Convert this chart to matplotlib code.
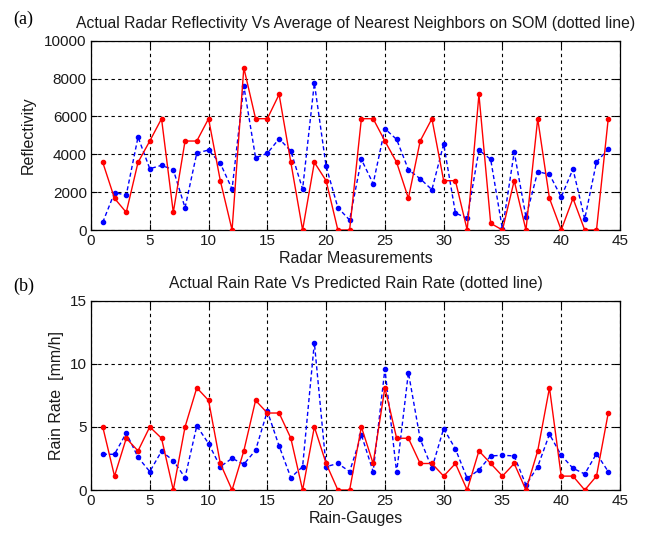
import matplotlib
matplotlib.use("Agg")
import matplotlib.pyplot as plt
import numpy as np

plt.rcParams['font.family'] = ['Liberation Sans', 'DejaVu Sans']

idx = list(range(1, 45))

refl_actual = [3573, 1672, 930, 3573, 4700, 5880, 930, 4700, 4700, 5880,
               2605, 0, 8571, 5880, 5880, 7163, 3573, 0, 3573, 2605,
               0, 0, 5880, 5880, 4700, 3573, 1672, 4700, 5880, 2605,
               2605, 0, 7163, 352, 0, 2605, 0, 5880, 1672, 0,
               1672, 0, 0, 5880]
refl_som = [405, 1971, 1848, 4910, 3238, 3414, 3186, 1179, 4066, 4224,
            3520, 2165, 7603, 3819, 4048, 4822, 4171, 2165, 7762, 3362,
            1179, 528, 3731, 2446, 5350, 4787, 3186, 2710, 2130, 4541,
            898, 616, 4224, 3731, 35, 4118, 686, 3080, 2939, 1742,
            3221, 581, 3590, 4277]

rain_actual = [5.0, 1.1, 4.1, 3.1, 5.0, 4.1, 0, 5.0, 8.1, 7.1,
               2.1, 0, 3.1, 7.1, 6.1, 6.1, 4.1, 0, 5.0, 2.1,
               0, 0, 5.0, 2.1, 8.1, 4.1, 4.1, 2.1, 2.1, 1.1,
               2.1, 0, 3.1, 2.1, 1.1, 2.1, 0, 3.1, 8.1, 1.1,
               1.1, 0, 1.1, 6.1]
rain_pred = [2.83, 2.83, 4.52, 2.59, 1.46, 3.07, 2.33, 0.98, 5.08, 3.68,
             1.85, 2.51, 2.04, 3.15, 6.25, 3.49, 0.98, 1.85, 11.67, 1.85,
             2.1, 1.46, 4.37, 1.46, 9.58, 1.4, 9.31, 4.05, 1.72, 4.87,
             3.25, 0.93, 1.59, 2.7, 2.75, 2.7, 0.4, 1.85, 4.42, 2.75,
             1.72, 1.27, 2.88, 1.46]

top_xticks = [0, 5, 10, 15, 20, 25, 30, 35, 40, 45]
top_yticks = [0, 2000, 4000, 6000, 8000, 10000]
bot_yticks = [0, 5, 10, 15]

W, H = 649, 533
fig = plt.figure(figsize=(W / 100, H / 100), dpi=100)
fig.patch.set_facecolor('white')

left = 91 / W
width = (620 - 91) / W
ax1 = fig.add_axes([left, 1 - 230 / H, width, (230 - 40.7) / H])
ax2 = fig.add_axes([left, 1 - 490 / H, width, (490 - 300.7) / H])

txtc = '#1a1a1a'

def style(ax, yticks, ylim):
    ax.set_xlim(0, 45)
    ax.set_ylim(*ylim)
    ax.set_xticks(top_xticks)
    ax.set_yticks(yticks)
    ax.grid(True, color='black', linestyle=(0, (3, 3)), linewidth=0.8)
    ax.set_axisbelow(True)
    ax.tick_params(direction='in', top=True, right=True, length=4,
                   width=0.8, labelsize=11, colors='black',
                   labelcolor=txtc, pad=3)
    for s in ax.spines.values():
        s.set_linewidth(0.9)
        s.set_color('black')

ax1.plot(idx, refl_som, color='blue', linestyle=(0, (3, 2)), linewidth=1.0,
         marker='.', markersize=6, zorder=3)
ax1.plot(idx, refl_actual, color='red', linestyle='-', linewidth=1.0,
         marker='.', markersize=6, zorder=4)
style(ax1, top_yticks, (0, 10000))
ax1.set_title('Actual Radar Reflectivity Vs Average of Nearest Neighbors on SOM (dotted line)',
              fontsize=11.3, color=txtc, pad=9)
ax1.set_xlabel('Radar Measurements', fontsize=11.5, color=txtc, labelpad=2)
ax1.set_ylabel('Reflectivity', fontsize=11.5, color=txtc, labelpad=6)

ax2.plot(idx, rain_pred, color='blue', linestyle=(0, (3, 2)), linewidth=1.0,
         marker='.', markersize=6, zorder=3)
ax2.plot(idx, rain_actual, color='red', linestyle='-', linewidth=1.0,
         marker='.', markersize=6, zorder=4)
style(ax2, bot_yticks, (0, 15))
ax2.set_title('Actual Rain Rate Vs Predicted Rain Rate (dotted line)',
              fontsize=11.3, color=txtc, pad=9)
ax2.set_xlabel('Rain-Gauges', fontsize=11.5, color=txtc, labelpad=2)
ax2.set_ylabel('Rain Rate  [mm/h]', fontsize=11.5, color=txtc, labelpad=4)

fig.text(13 / W, 1 - 19 / H, '(a)', fontsize=13, family='Liberation Serif',
         va='center', ha='left', color='black')
fig.text(13 / W, 1 - 286 / H, '(b)', fontsize=13, family='Liberation Serif',
         va='center', ha='left', color='black')

fig.savefig('out.png', dpi=100, facecolor='white')
